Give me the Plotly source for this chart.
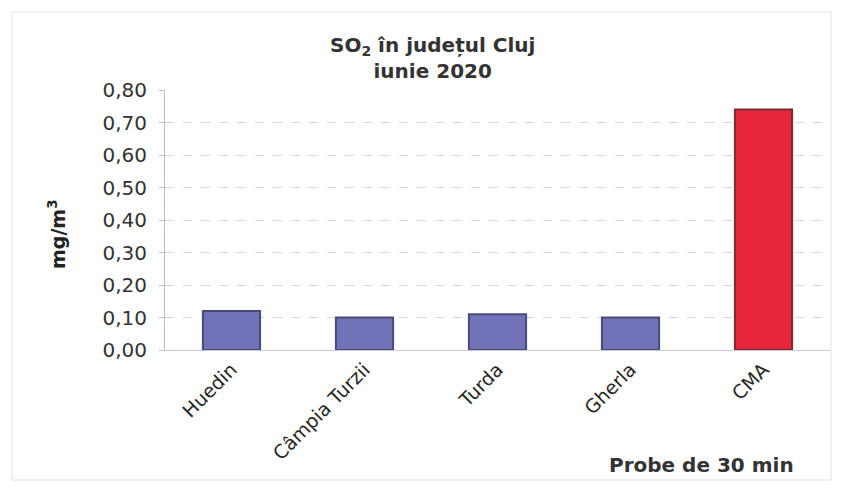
import plotly.graph_objects as go

categories = ["Huedin", "Câmpia Turzii", "Turda", "Gherla", "CMA"]
values = [0.12, 0.10, 0.11, 0.10, 0.74]
bar_colors = ["#7272b8", "#7272b8", "#7272b8", "#7272b8", "#e8263b"]
border_colors = ["#4b4b78", "#4b4b78", "#4b4b78", "#4b4b78", "#7a2a30"]
y_ticks = [0.0, 0.1, 0.2, 0.3, 0.4, 0.5, 0.6, 0.7, 0.8]
y_tick_labels = ["0,00", "0,10", "0,20", "0,30", "0,40", "0,50", "0,60", "0,70", "0,80"]

# page offset (browser body margin) compensation
OFF = 8
W, H = 841 - OFF, 489 - OFF
PL, PR, PT, PB = 165, 830, 90, 350  # desired page coords of plot area
pw, ph = PR - PL, PB - PT


def px(x):
    return (x - PL) / pw


def py(y):
    return (PB - y) / ph


fig = go.Figure()
fig.add_trace(go.Bar(
    x=categories, y=values,
    marker=dict(color=bar_colors, line=dict(color=border_colors, width=2)),
    width=0.43,
))

FONT = "DejaVu Sans, Verdana, Arial"
fig.update_layout(
    width=W, height=H,
    margin=dict(l=PL - OFF, r=W - (PR - OFF), t=PT - OFF, b=H - (PB - OFF), autoexpand=False),
    paper_bgcolor="white", plot_bgcolor="white",
    font=dict(family=FONT, color="#333"),
    showlegend=False,
    xaxis=dict(
        tickangle=-45, tickfont=dict(size=19, color="#262626", family=FONT),
        showline=True, linecolor="#c8cce0", linewidth=1,
        ticks="", showgrid=False, automargin=False,
    ),
    yaxis=dict(
        range=[0, 0.8], tickvals=y_ticks, ticktext=y_tick_labels,
        tickfont=dict(size=20, color="#333333", family=FONT),
        showline=True, linecolor="#b8bcd0", linewidth=1,
        showgrid=True, gridcolor="#d4d7e4", griddash="dash",
        ticks="outside", ticklen=5, tickcolor="#b8bcd0",
        ticklabelstandoff=8,
        zeroline=False, automargin=False,
    ),
    annotations=[
        dict(text="<b>SO<sub>2</sub> în județul Cluj<br>iunie 2020</b>",
             xref="paper", yref="paper", x=px(432), y=py(58),
             xanchor="center", yanchor="middle", showarrow=False,
             font=dict(size=20, color="#333", family=FONT)),
        dict(text="<b>mg/m<sup>3</sup></b>", textangle=-90,
             xref="paper", yref="paper", x=px(57), y=py(234),
             xanchor="center", yanchor="middle", showarrow=False,
             font=dict(size=19, color="#222", family=FONT)),
        dict(text="<b>Probe de 30 min</b>",
             xref="paper", yref="paper", x=px(796), y=py(465),
             xanchor="right", yanchor="middle", showarrow=False,
             font=dict(size=20, color="#333", family=FONT)),
    ],
    shapes=[
        dict(type="rect", xref="paper", yref="paper",
             x0=px(12), x1=px(831), y0=py(480), y1=py(12),
             line=dict(color="#e2e2e2", width=1)),
    ],
)

fig.write_html("out.html")
